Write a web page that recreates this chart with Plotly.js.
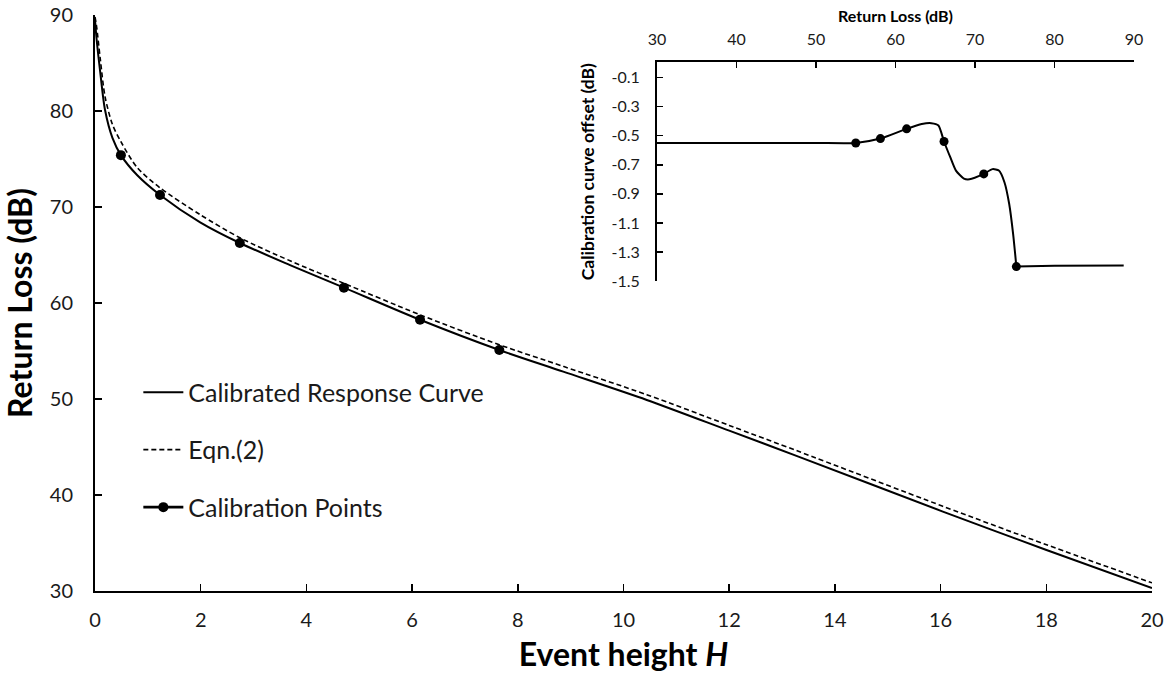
<!DOCTYPE html>
<html>
<head>
<meta charset="utf-8">
<script src="https://cdn.plot.ly/plotly-3.0.1.min.js"></script>
<style>html,body{margin:0;padding:0;background:#fff;}#chart{width:1174px;height:674px;}</style>
</head>
<body>
<div id="chart"></div>
<script>
// Main chart: Return Loss vs Event height H
const curveH  = [0, 0.03, 0.1, 0.19, 0.33, 0.49, 0.8, 1.23, 1.99, 2.74, 3.69, 4.71, 6.15, 7.65, 8.86, 10.44, 12.0, 13.31, 16.03, 17.99, 20];
const curveRL = [89.5, 87.5, 84.0, 80.1, 77.2, 75.4, 73.3, 71.25, 68.4, 66.25, 63.95, 61.6, 58.25, 55.1, 52.85, 49.9, 46.7, 44.0, 38.3, 34.3, 30.3];

const eqnH  = [0, 0.03, 0.1, 0.19, 0.33, 0.49, 0.8, 1.23, 1.99, 2.74, 3.69, 4.71, 6.15, 7.65, 8.86, 10.44, 12.0, 13.31, 16.03, 17.99, 20];
const eqnRL = [89.8, 88.8, 85.4, 81.5, 78.6, 76.8, 74.1, 72.0, 69.2, 66.8, 64.4, 62.05, 58.77, 55.65, 53.4, 50.45, 47.25, 44.55, 38.85, 34.85, 30.85];

const calH  = [0.49, 1.23, 2.74, 4.71, 6.15, 7.65];
const calRL = [75.4, 71.25, 66.25, 61.6, 58.25, 55.1];

// Inset: calibration curve offset vs Return Loss
const offRL  = [30, 40, 50, 55.0, 58.1, 61.4, 63.3, 64.5, 65.4, 66.1, 66.9, 67.6, 68.6, 69.3, 71.1, 72.2, 73.0, 73.7, 74.3, 74.8, 75.2];
const offVal = [-0.55, -0.55, -0.55, -0.55, -0.52, -0.453, -0.42, -0.414, -0.43, -0.54, -0.65, -0.74, -0.795, -0.80, -0.763, -0.73, -0.74, -0.82, -0.97, -1.18, -1.40];
const offTailRL  = [75.2, 80, 88.7];
const offTailVal = [-1.40, -1.395, -1.393];
const offPtRL  = [55.0, 58.1, 61.4, 66.1, 71.1, 75.2];
const offPtVal = [-0.55, -0.52, -0.453, -0.54, -0.763, -1.40];

const insetTicks = [-0.1, -0.3, -0.5, -0.7, -0.9, -1.1, -1.3, -1.5];

const FONT = 'Lato, "Open Sans", sans-serif';
const TXT = '#1a1a1a';

const traces = [
  {x: curveH, y: curveRL, type: 'scatter', mode: 'lines', name: 'Calibrated Response Curve', legendgroup: 'a',
   line: {color: '#000', width: 2, shape: 'spline', smoothing: 0.8}},
  {x: eqnH, y: eqnRL, type: 'scatter', mode: 'lines', name: 'Eqn.(2)', legendgroup: 'b',
   line: {color: '#000', width: 1.6, dash: '5px,3px', shape: 'spline', smoothing: 0.8}},
  {x: calH, y: calRL, type: 'scatter', mode: 'markers', name: 'Calibration Points', legendgroup: 'c', showlegend: false,
   marker: {color: '#000', size: 10}},
  // legend entry for the calibration points (line + marker sample)
  {x: [null], y: [null], type: 'scatter', mode: 'lines+markers', name: 'Calibration Points', legendgroup: 'c',
   line: {color: '#000', width: 2.6}, marker: {color: '#000', size: 10}},
  {x: offRL, y: offVal, xaxis: 'x2', yaxis: 'y2', type: 'scatter', mode: 'lines', showlegend: false,
   line: {color: '#000', width: 2, shape: 'spline', smoothing: 0.6}},
  {x: offTailRL, y: offTailVal, xaxis: 'x2', yaxis: 'y2', type: 'scatter', mode: 'lines', showlegend: false,
   line: {color: '#000', width: 2}},
  {x: offPtRL, y: offPtVal, xaxis: 'x2', yaxis: 'y2', type: 'scatter', mode: 'markers', showlegend: false,
   marker: {color: '#000', size: 9}}
];

const layout = {
  width: 1174, height: 674,
  paper_bgcolor: '#fff', plot_bgcolor: 'rgba(0,0,0,0)',
  margin: {l: 95, r: 22, t: 15, b: 83},
  font: {family: FONT, color: TXT},
  showlegend: true,
  legend: {x: 0.041, y: 0.245, xanchor: 'left', yanchor: 'middle', bgcolor: 'rgba(0,0,0,0)', itemwidth: 40,
           font: {size: 25, family: FONT, color: TXT}, tracegroupgap: 22, traceorder: 'grouped'},
  xaxis: {
    range: [0, 20], dtick: 2, tick0: 0, showgrid: false, zeroline: false,
    showline: true, linecolor: '#000', linewidth: 2, ticks: 'inside', ticklen: 7, tickwidth: 1.5, tickcolor: '#000',
    tickfont: {size: 20, color: TXT}, ticklabelstandoff: 10, domain: [0, 1],
    title: {text: '<b>Event height <i>H</i></b>', font: {size: 32, color: '#000'}, standoff: 14}
  },
  yaxis: {
    range: [30, 90], dtick: 10, showgrid: false, zeroline: false,
    showline: true, linecolor: '#000', linewidth: 2, ticks: 'inside', ticklen: 7, tickwidth: 1.5, tickcolor: '#000',
    tickfont: {size: 20, color: TXT}, ticklabelstandoff: 16,
    title: {text: '<b>Return Loss (dB)</b>', font: {size: 32, color: '#000'}, standoff: 8}
  },
  xaxis2: {
    anchor: 'y2', side: 'top', domain: [0.5317, 0.983], range: [30, 90], dtick: 10,
    showgrid: false, zeroline: false, showline: true, linecolor: '#000', linewidth: 2,
    ticks: 'inside', ticklen: 6, tickwidth: 1.5, tickcolor: '#000', tickfont: {size: 16, color: TXT},
    ticklabelstandoff: 9,
    title: {text: '<b>Return Loss (dB)</b>', font: {size: 16, color: '#000'}, standoff: 2}
  },
  yaxis2: {
    anchor: 'x2', domain: [0.538, 0.918], range: [-1.5, 0.005], tickvals: insetTicks,
    ticktext: insetTicks.map(v => v.toFixed(1)),
    showgrid: false, zeroline: false, showline: true, linecolor: '#000', linewidth: 2,
    ticks: 'inside', ticklen: 6, tickwidth: 1.5, tickcolor: '#000', tickfont: {size: 16, color: TXT},
    ticklabelstandoff: 12,
    title: {text: '<b>Calibration curve offset (dB)</b>', font: {size: 17.5, color: '#000'}, standoff: 12}
  }
};

Plotly.newPlot('chart', traces, layout, {displayModeBar: false, staticPlot: true});
</script>
</body>
</html>
